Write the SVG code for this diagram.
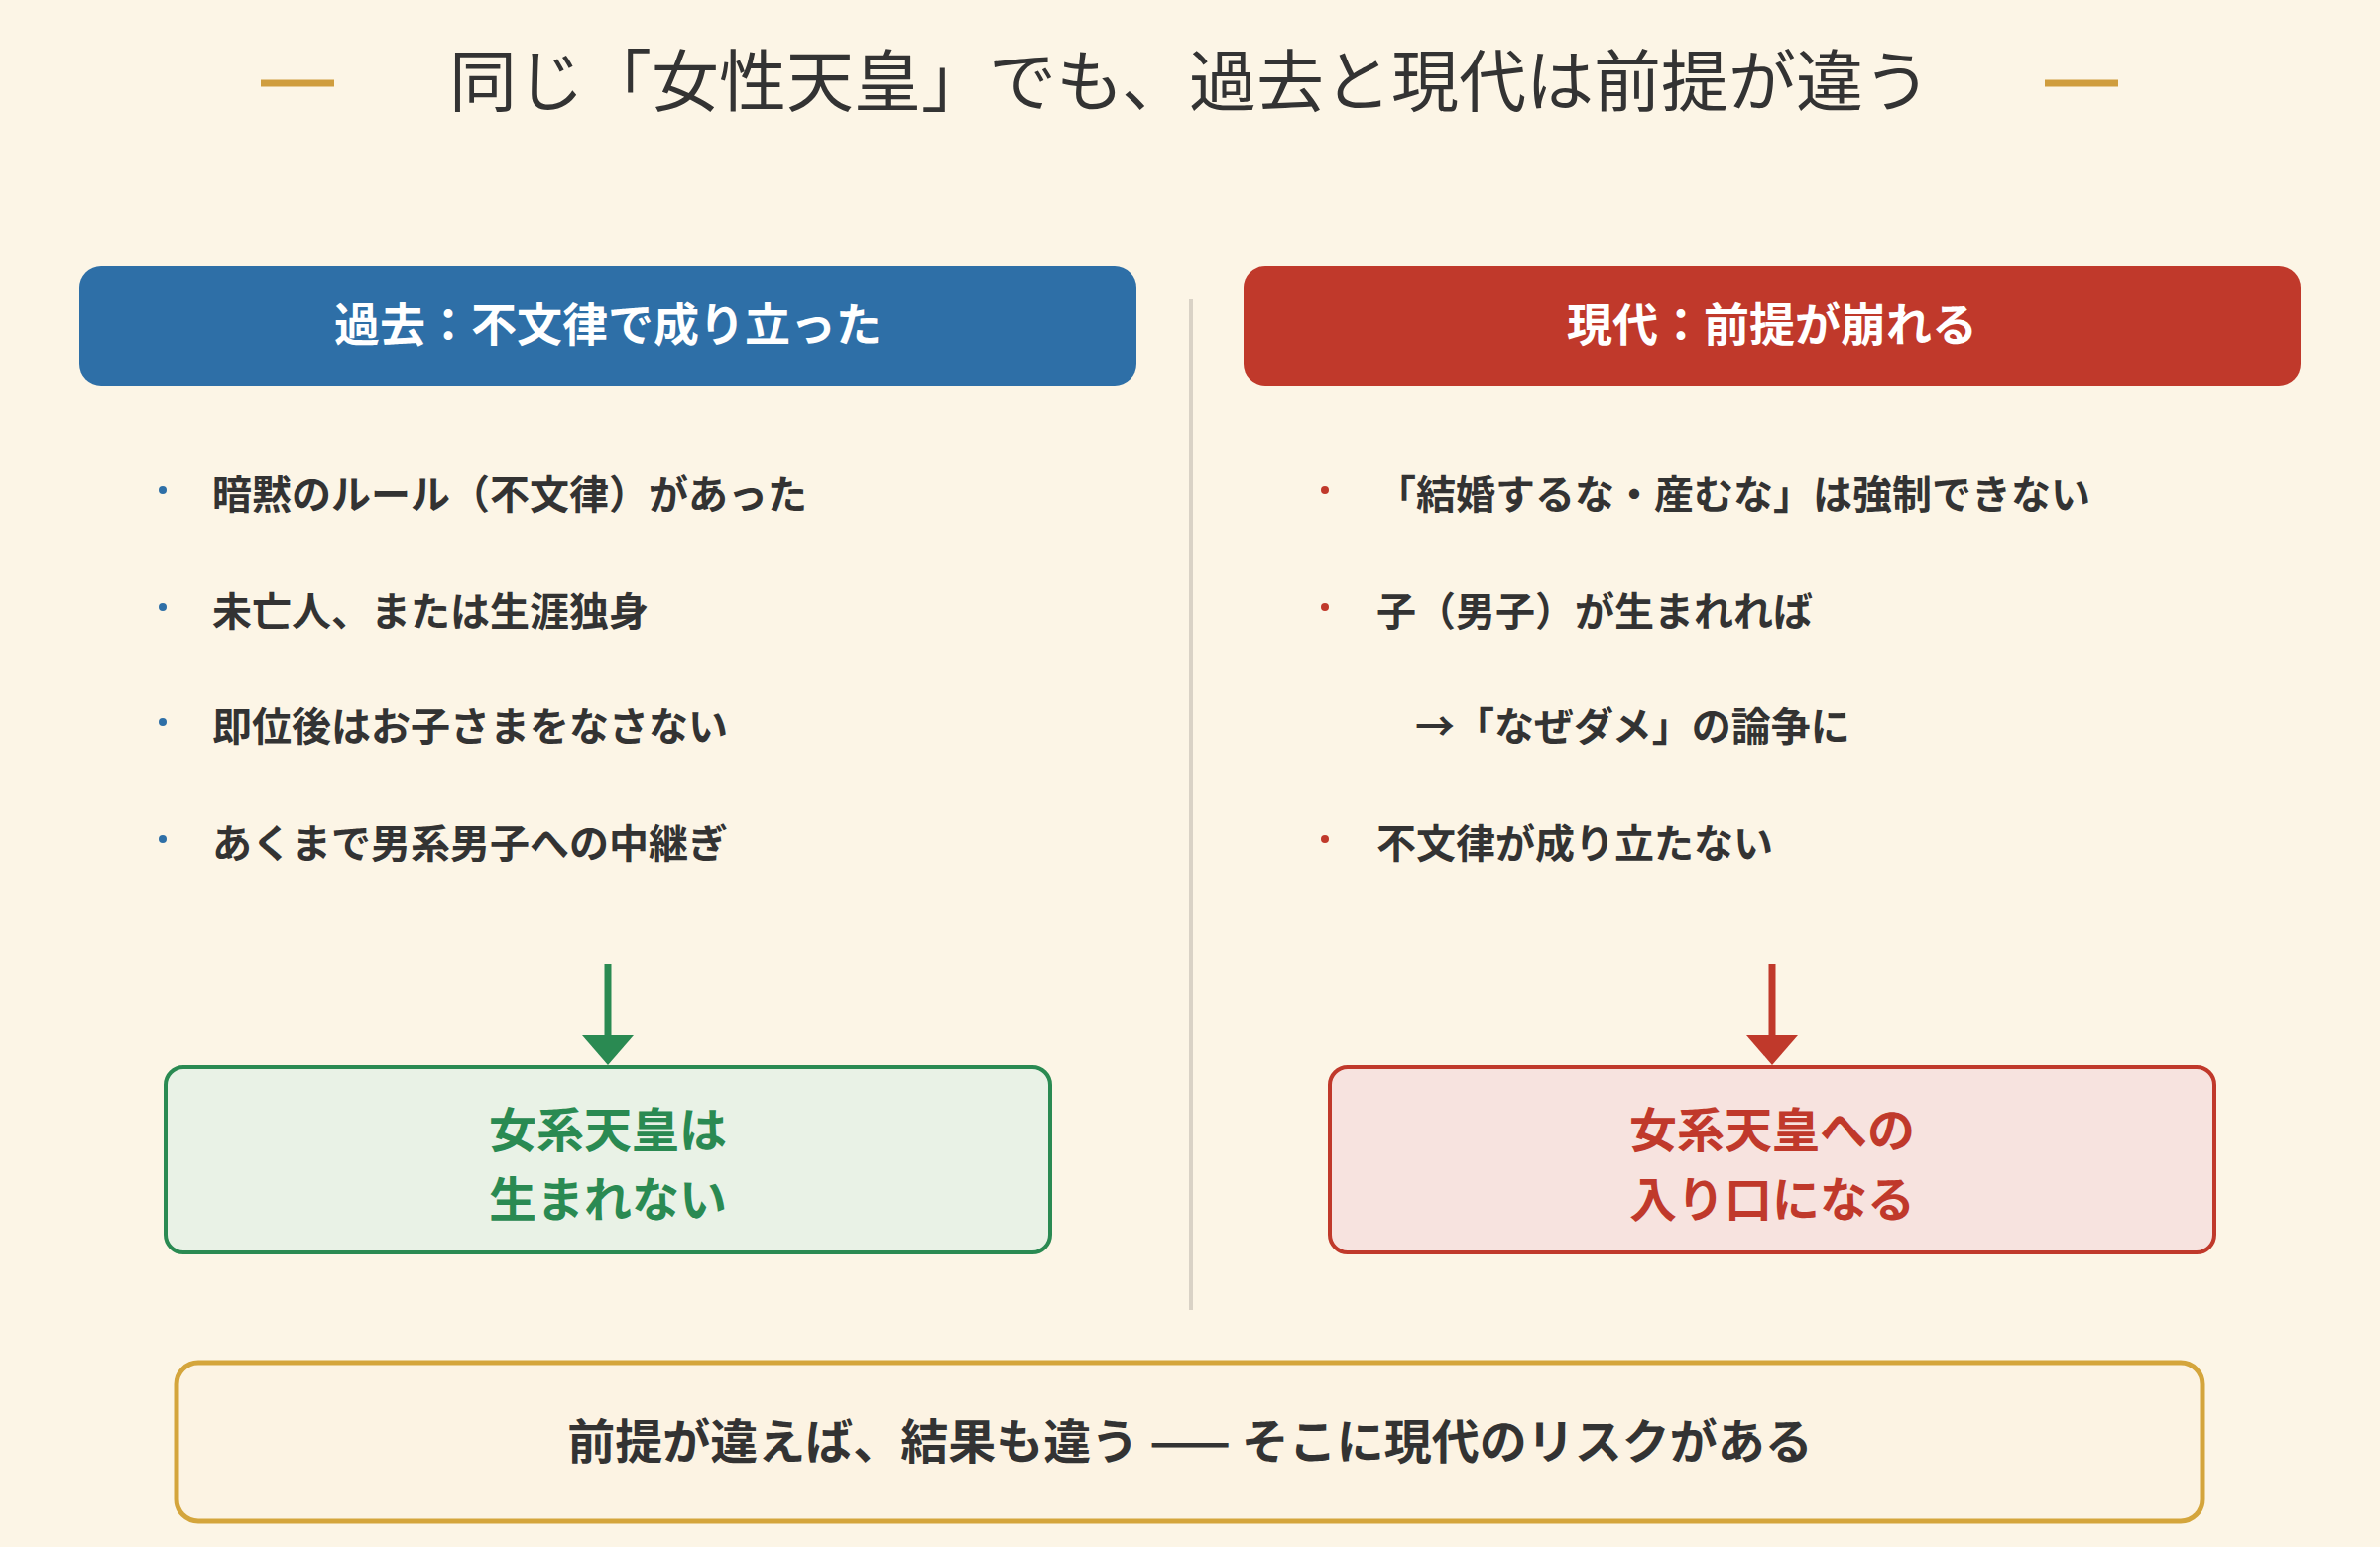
<svg xmlns="http://www.w3.org/2000/svg" width="2400" height="1560" viewBox="0 0 2400 1560">
<style>
text{font-family:"Noto Sans CJK JP","Noto Sans",sans-serif}
.title{font-size:68px;fill:#333;font-family:"Noto Sans CJK JP",serif}
.hdr{font-size:46px;font-weight:bold;fill:#fff}
.item{font-size:40px;font-weight:bold;fill:#333}
.res{font-size:48px;font-weight:bold}
</style>
<defs>
<marker id="ag" markerWidth="8" markerHeight="6" refX="4" refY="5.9" orient="auto" markerUnits="strokeWidth"><path d="M0,0 L8,0 L4,6 Z" fill="#2a8a52"/></marker>
</defs>
<rect width="2400" height="1560" fill="#fcf5e6"/>
<g id="title">
<line x1="263" y1="84" x2="337" y2="84" stroke="#cf9d3e" stroke-width="7"/>
<line x1="2062" y1="84" x2="2136" y2="84" stroke="#cf9d3e" stroke-width="7"/>
<text class="title" x="1200" y="107" text-anchor="middle">同じ「女性天皇」でも、過去と現代は前提が違う</text>
</g>
<line id="divider" x1="1201" y1="302" x2="1201" y2="1321" stroke="#d9d2c6" stroke-width="4"/>
<g id="past-header"><rect x="80" y="268" width="1066" height="121" rx="22" fill="#2e6fa7"/><text class="hdr" x="613" y="344" text-anchor="middle">過去：不文律で成り立った</text></g>
<g id="now-header"><rect x="1254" y="268" width="1066" height="121" rx="22" fill="#c0392b"/><text class="hdr" x="1787" y="344" text-anchor="middle">現代：前提が崩れる</text></g>
<g id="past-items" fill="#2e6fa7">
<circle cx="164" cy="494" r="4"/><text class="item" x="214" y="513">暗黙のルール（不文律）があった</text>
<circle cx="164" cy="612" r="4"/><text class="item" x="214" y="631">未亡人、または生涯独身</text>
<circle cx="164" cy="728" r="4"/><text class="item" x="214" y="747">即位後はお子さまをなさない</text>
<circle cx="164" cy="846" r="4"/><text class="item" x="214" y="865">あくまで男系男子への中継ぎ</text>
</g>
<g id="now-items" fill="#c0392b">
<circle cx="1336" cy="494" r="4"/><text class="item" x="1388" y="513">「結婚するな・産むな」は強制できない</text>
<circle cx="1336" cy="612" r="4"/><text class="item" x="1388" y="631">子（男子）が生まれれば</text>
<text class="item" x="1427" y="747">→「なぜダメ」の論争に</text>
<circle cx="1336" cy="846" r="4"/><text class="item" x="1388" y="865">不文律が成り立たない</text>
</g>
<g id="connectors">
<line x1="613" y1="972" x2="613" y2="1046" stroke="#2a8a52" stroke-width="7"/>
<path d="M587,1044 L639,1044 L613,1074 Z" fill="#2a8a52"/>
<line x1="1787" y1="972" x2="1787" y2="1046" stroke="#c0392b" stroke-width="7"/>
<path d="M1761,1044 L1813,1044 L1787,1074 Z" fill="#c0392b"/>
</g>
<g id="past-result"><rect x="167" y="1076" width="892" height="187" rx="18" fill="#e9f2e6" stroke="#2a8a52" stroke-width="4"/>
<text class="res" x="613" y="1157" text-anchor="middle" fill="#2a8a52">女系天皇は</text>
<text class="res" x="613" y="1227" text-anchor="middle" fill="#2a8a52">生まれない</text></g>
<g id="now-result"><rect x="1341" y="1076" width="892" height="187" rx="18" fill="#f7e3df" stroke="#c0392b" stroke-width="4"/>
<text class="res" x="1787" y="1157" text-anchor="middle" fill="#c0392b">女系天皇への</text>
<text class="res" x="1787" y="1227" text-anchor="middle" fill="#c0392b">入り口になる</text></g>
<g id="conclusion"><rect x="178" y="1374" width="2043" height="160" rx="22" fill="#fcf3e3" stroke="#d4a53c" stroke-width="5"/>
<text class="res" x="1200" y="1471" text-anchor="middle" fill="#333">前提が違えば、結果も違う —— そこに現代のリスクがある</text></g>
</svg>
